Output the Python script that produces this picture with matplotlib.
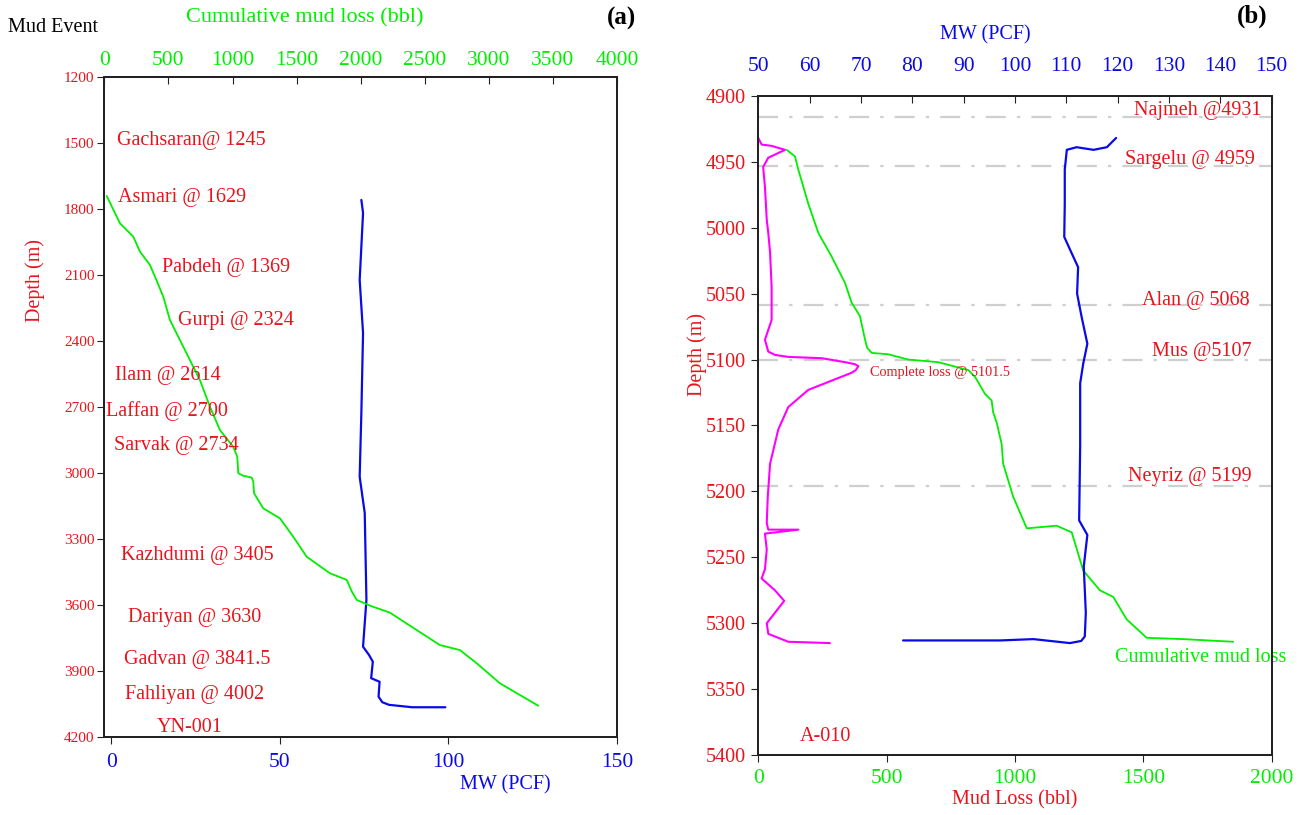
import numpy as np
import matplotlib.pyplot as plt

plt.rcParams['font.family'] = ['Liberation Serif', 'DejaVu Serif']
plt.rcParams['lines.solid_joinstyle'] = 'round'
plt.rcParams['lines.solid_capstyle'] = 'round'

RED = '#e8141c'
GREEN = '#00ee00'
BLUE = '#0a0ae6'
MAGENTA = '#ff00ff'
GRAY = '#cfcfcf'

# ---------------- (a) YN-001 ----------------
a_cum_depth = [1743, 1805, 1867, 1928, 1996, 2057, 2130, 2201, 2307, 2398, 2489, 2580, 2701, 2807,
               2883, 2928, 3003, 3014, 3023, 3040, 3094, 3163, 3208, 3292, 3383, 3458, 3488,
               3540, 3579, 3605, 3637, 3716, 3784, 3807, 3867, 3958, 4060]
a_cum_loss = [19, 70, 122, 226, 278, 356, 410, 460, 512, 590, 668, 746, 824, 902,
              1006, 1037, 1045, 1080, 1150, 1162, 1168, 1240, 1370, 1474, 1579, 1760, 1891,
              1930, 1969, 2072, 2228, 2437, 2617, 2774, 2905, 3086, 3385]

a_mw_depth = [1761, 1820, 2125, 2366, 2729, 3019, 3184, 3579, 3792, 3830, 3860, 3935, 3951,
              4019, 4044, 4056, 4067, 4067]
a_mw = [74.2, 74.7, 73.7, 74.7, 74.2, 73.7, 75.2, 75.7, 74.7, 76.5, 77.6, 77.1, 79.6,
        79.3, 80.4, 82.4, 89.3, 99.1]

a_tops = ['Gachsaran@ 1245', 'Asmari @ 1629', 'Pabdeh @ 1369', 'Gurpi @ 2324',
          'Ilam @ 2614', 'Laffan @ 2700', 'Sarvak @ 2734', 'Kazhdumi @ 3405',
          'Dariyan @ 3630', 'Gadvan @ 3841.5', 'Fahliyan @ 4002']
# label anchor (left x in bbl, depth)
a_top_x = [99, 107, 450, 575, 83, 13, 76, 130, 184, 154, 161]
a_top_y = [1493, 1748, 2070, 2307, 2561, 2720, 2875, 3375, 3657, 3852, 4011]

# ---------------- (b) A-010 ----------------
b_loss_depth = [4932, 4937, 4938, 4941, 4947, 4954, 4969, 4994, 5004, 5019, 5045, 5070,
                5085, 5094, 5096.5, 5098, 5099, 5102, 5103.5, 5105, 5108, 5110, 5123, 5136,
                5153, 5179, 5204, 5224, 5229, 5229, 5232, 5244, 5259, 5266, 5275, 5283,
                5292, 5300, 5308, 5314, 5315]
b_loss = [0, 13, 52, 104, 39, 19, 26, 33, 39, 46, 52, 52,
          26, 39, 65, 117, 247, 338, 376, 390, 380, 364, 195, 117,
          78, 46, 37, 33, 39, 156, 26, 33, 26, 13, 65, 101,
          65, 33, 39, 117, 279]

b_cum_depth = [4941, 4946, 4956, 4982, 5004, 5022, 5042, 5057, 5067, 5085, 5091, 5095, 5096,
               5100, 5102, 5108, 5113, 5126, 5131, 5140, 5148, 5164, 5179, 5204, 5228,
               5226, 5231, 5260, 5275, 5280, 5297, 5311, 5312, 5314]
b_cum_loss = [111, 143, 156, 195, 234, 286, 338, 364, 396, 416, 424, 442, 506,
              584, 701, 818, 844, 883, 909, 915, 929, 948, 954, 993, 1046,
              1162, 1221, 1266, 1331, 1383, 1435, 1513, 1656, 1850]

b_mw_depth = [4932, 4939, 4941, 4939, 4941, 4956, 4982, 5007, 5019, 5030, 5050, 5068,
              5088, 5103, 5118, 5166, 5222, 5233, 5257, 5292, 5310, 5313.4, 5315, 5312,
              5313, 5313]
b_mw = [119.7, 117.9, 115.3, 112.0, 110.1, 109.7, 109.7, 109.6, 111.0, 112.3, 112.1, 113.0,
        114.1, 113.3, 112.7, 112.7, 112.5, 114.1, 113.4, 113.8, 113.6, 112.9, 110.7, 103.6,
        97.1, 78.2]

b_tops = ['Najmeh @4931', 'Sargelu @ 4959', 'Alan @ 5068', 'Mus @5107', 'Neyriz @ 5199']
b_top_lines = [4916, 4953, 5059, 5100, 5196]
b_top_label_y = [4911, 4948, 5055, 5094, 5189]
b_top_label_x = [1962, 1935, 1915, 1920, 1920]

fig = plt.figure(figsize=(13.04, 8.15), dpi=100)

# ---------- panel (a) ----------
ax = fig.add_axes([0.0800, 0.0963, 0.3932, 0.8098])
axt = ax.twiny()
ax.set_ylim(4200, 1200)
ax.set_xlim(-2, 150)
axt.set_xlim(0, 4000)
ax.set_yticks(np.arange(1200, 4201, 300))
ax.set_xticks([0, 50, 100, 150])
axt.set_xticks(np.arange(0, 4001, 500))

ax.plot(a_mw, a_mw_depth, color=BLUE, lw=1.6)
axt.plot(a_cum_loss, a_cum_depth, color=GREEN, lw=1.3)

for name, x, y in zip(a_tops, a_top_x, a_top_y):
    axt.text(x, y, name, color=RED, fontsize=14.5, va='center', ha='left')
axt.text(411, 4157, 'YN-001', color=RED, fontsize=14.5, va='center', ha='left')

ax.tick_params(axis='y', colors=RED, labelsize=11, direction='out', length=5, pad=2)
ax.tick_params(axis='x', colors=BLUE, labelsize=15.5, direction='out', length=5, pad=7)
axt.tick_params(axis='x', colors=GREEN, labelsize=15.5, direction='in', length=5, pad=5)
ax.tick_params(axis='both', color='#222222')
axt.tick_params(axis='x', color='#222222')
for a in (ax, axt):
    for s in a.spines.values():
        s.set_color('#222222')
        s.set_linewidth(1.4)

fig.text(305 / 1304, 1 - 18 / 815, 'Cumulative mud loss (bbl)', color=GREEN, fontsize=16,
         ha='center', va='center')
fig.text(8 / 1304, 1 - 28 / 815, 'Mud Event', color='black', fontsize=14.5,
         ha='left', va='center')
fig.text(621 / 1304, 1 - 18 / 815, '(a)', color='black', fontsize=18, fontweight='bold',
         ha='center', va='center')
fig.text(505 / 1304, 1 - 785 / 815, 'MW (PCF)', color=BLUE, fontsize=14.5,
         ha='center', va='center')
fig.text(35 / 1304, 1 - 280 / 815, 'Depth (m)', color=RED, fontsize=14.5,
         ha='center', va='center', rotation=90)

# ---------- panel (b) ----------
bx = fig.add_axes([0.5815, 0.0734, 0.3937, 0.8091])
bxt = bx.twiny()
bx.set_ylim(5400, 4900)
bx.set_xlim(0, 2000)
bxt.set_xlim(50, 150)
bx.set_yticks(np.arange(4900, 5401, 50))
bx.set_xticks(np.arange(0, 2001, 500))
bxt.set_xticks(np.arange(50, 151, 10))

for d in b_top_lines:
    bx.axhline(d, color=GRAY, lw=1.6, linestyle=(0, (9, 5, 1.5, 5)), zorder=1)

bx.plot(b_loss, b_loss_depth, color=MAGENTA, lw=1.5, zorder=3)
bx.plot(b_cum_loss, b_cum_depth, color=GREEN, lw=1.3, zorder=3)
bxt.plot(b_mw, b_mw_depth, color=BLUE, lw=1.6, zorder=3)

for name, x, y in zip(b_tops, b_top_label_x, b_top_label_y):
    bx.text(x, y, name, color=RED, fontsize=14.5, va='center', ha='right')
bx.text(435, 5109.5, 'Complete loss @ 5101.5', color=RED, fontsize=10.3, va='center', ha='left')
bx.text(1390, 5326, 'Cumulative mud loss', color=GREEN, fontsize=14.5, va='center', ha='left')
bx.text(162, 5386, 'A-010', color=RED, fontsize=14.5, va='center', ha='left')

bx.tick_params(axis='y', colors=RED, labelsize=14.5, direction='out', length=5, pad=4)
bx.tick_params(axis='x', colors=GREEN, labelsize=15.5, direction='out', length=5, pad=5)
bxt.tick_params(axis='x', colors=BLUE, labelsize=15.5, direction='in', length=5, pad=14)
bx.tick_params(axis='both', color='#222222')
bxt.tick_params(axis='x', color='#222222')
for a in (bx, bxt):
    for s in a.spines.values():
        s.set_color('#222222')
        s.set_linewidth(1.4)

fig.text(985 / 1304, 1 - 35 / 815, 'MW (PCF)', color=BLUE, fontsize=14.5,
         ha='center', va='center')
fig.text(1015 / 1304, 1 - 800 / 815, 'Mud Loss (bbl)', color=RED, fontsize=14.5,
         ha='center', va='center')
fig.text(697 / 1304, 1 - 355 / 815, 'Depth (m)', color=RED, fontsize=14.5,
         ha='center', va='center', rotation=90)
fig.text(1252 / 1304, 1 - 16 / 815, '(b)', color='black', fontsize=18, fontweight='bold',
         ha='center', va='center')

fig.savefig('out.png', dpi=100)
